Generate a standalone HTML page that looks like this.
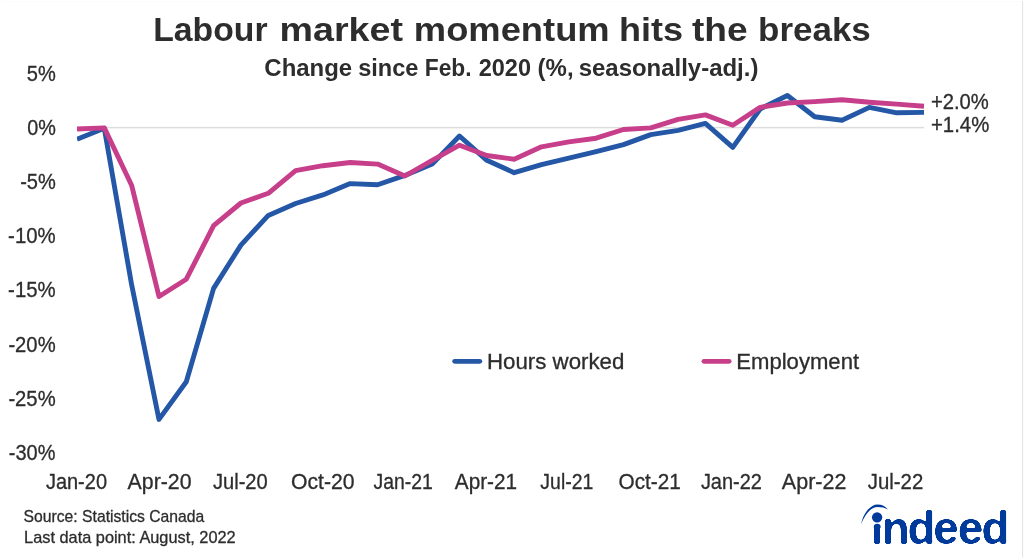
<!DOCTYPE html>
<html lang="en"><head><meta charset="utf-8"><title>Labour market momentum hits the breaks</title>
<style>
html,body{margin:0;padding:0;background:#fff;}
body{width:1024px;height:559px;overflow:hidden;}
svg{display:block;}
text{font-family:"Liberation Sans",sans-serif;fill:#2d2d2d;stroke:#2d2d2d;stroke-width:0.3px;}
.b{font-weight:bold;stroke:none;}
</style></head><body>
<svg width="1024" height="559" viewBox="0 0 1024 559">
<rect width="1024" height="559" fill="#ffffff"/>
<rect x="1022.1" y="1" width="1" height="556.4" fill="#e3e3e3"/>
<rect x="1" y="1" width="1021" height="1" fill="#fcfcfc"/>
<!-- zero gridline -->
<rect x="77" y="126.85" width="847" height="1.5" fill="#dddddd"/>
<!-- data lines -->
<defs><clipPath id="plot"><rect x="76.9" y="60" width="847.7" height="400"/></clipPath></defs>
<g clip-path="url(#plot)" fill="none" stroke-width="4.9" stroke-linejoin="round" stroke-linecap="butt">
<polyline stroke="#2557a7" points="77.0,139.2 104.3,128.3 131.6,284.6 159.0,419.4 186.3,381.8 213.6,288.4 240.9,245.1 268.3,215.4 295.6,203.5 322.9,194.9 350.2,183.6 377.6,184.8 404.9,175.4 432.2,164.1 459.5,136.0 486.8,160.3 514.2,172.7 541.5,164.6 568.8,158.2 596.1,151.7 623.5,144.6 650.8,134.6 678.1,130.3 705.4,123.4 732.8,147.4 760.1,109.0 787.4,95.5 814.7,116.7 842.0,120.3 869.4,107.4 896.7,112.8 924.0,112.4"/>
<polyline stroke="#c73e8a" points="77.0,129.0 104.3,127.9 131.6,185.2 159.0,296.5 186.3,279.2 213.6,225.7 240.9,203.0 268.3,193.3 295.6,170.6 322.9,165.7 350.2,162.5 377.6,164.1 404.9,176.0 432.2,160.3 459.5,145.2 486.8,155.5 514.2,159.2 541.5,146.8 568.8,141.9 596.1,138.2 623.5,129.5 650.8,127.9 678.1,119.3 705.4,114.9 732.8,125.2 760.1,107.4 787.4,103.0 814.7,101.6 842.0,99.8 869.4,102.2 896.7,104.1 924.0,106.3"/>
</g>
<!-- legend swatches -->
<line x1="454.7" y1="361.35" x2="479.8" y2="361.35" stroke="#2557a7" stroke-width="4.9" stroke-linecap="round"/>
<line x1="704" y1="361.35" x2="729.1" y2="361.35" stroke="#c73e8a" stroke-width="4.9" stroke-linecap="round"/>
<!-- text -->
<text y="40.7" font-size="33.3" class="b"><tspan x="153.25" textLength="114.29" lengthAdjust="spacingAndGlyphs">Labour</tspan> <tspan x="279.64" textLength="123.37" lengthAdjust="spacingAndGlyphs">market</tspan> <tspan x="413.87" textLength="195.81" lengthAdjust="spacingAndGlyphs">momentum</tspan> <tspan x="619.00" textLength="63.98" lengthAdjust="spacingAndGlyphs">hits</tspan> <tspan x="691.90" textLength="55.61" lengthAdjust="spacingAndGlyphs">the</tspan> <tspan x="758.12" textLength="112.68" lengthAdjust="spacingAndGlyphs">breaks</tspan></text>
<text y="76.1" font-size="23.5" class="b"><tspan x="264.38" textLength="87.83" lengthAdjust="spacingAndGlyphs">Change</tspan> <tspan x="358.15" textLength="60.25" lengthAdjust="spacingAndGlyphs">since</tspan> <tspan x="424.72" textLength="46.84" lengthAdjust="spacingAndGlyphs">Feb.</tspan> <tspan x="478.70" textLength="52.30" lengthAdjust="spacingAndGlyphs">2020</tspan> <tspan x="537.62" textLength="35.99" lengthAdjust="spacingAndGlyphs">(%,</tspan> <tspan x="578.71" textLength="179.70" lengthAdjust="spacingAndGlyphs">seasonally-adj.)</tspan></text>
<text x="45.89" y="488.7" font-size="21.2" textLength="61.17" lengthAdjust="spacingAndGlyphs">Jan-20</text>
<text x="127.60" y="488.7" font-size="21.2" textLength="63.88" lengthAdjust="spacingAndGlyphs">Apr-20</text>
<text x="212.96" y="488.7" font-size="21.2" textLength="54.79" lengthAdjust="spacingAndGlyphs">Jul-20</text>
<text x="290.96" y="488.7" font-size="21.2" textLength="63.52" lengthAdjust="spacingAndGlyphs">Oct-20</text>
<text x="373.53" y="488.7" font-size="21.2" textLength="59.30" lengthAdjust="spacingAndGlyphs">Jan-21</text>
<text x="454.84" y="488.7" font-size="21.2" textLength="62.29" lengthAdjust="spacingAndGlyphs">Apr-21</text>
<text x="540.36" y="488.7" font-size="21.2" textLength="52.93" lengthAdjust="spacingAndGlyphs">Jul-21</text>
<text x="618.61" y="488.7" font-size="21.2" textLength="62.24" lengthAdjust="spacingAndGlyphs">Oct-21</text>
<text x="700.89" y="488.7" font-size="21.2" textLength="61.12" lengthAdjust="spacingAndGlyphs">Jan-22</text>
<text x="781.83" y="488.7" font-size="21.2" textLength="64.55" lengthAdjust="spacingAndGlyphs">Apr-22</text>
<text x="867.73" y="488.7" font-size="21.2" textLength="55.50" lengthAdjust="spacingAndGlyphs">Jul-22</text>
<text x="486.98" y="368.8" font-size="21.2" textLength="137.42" lengthAdjust="spacingAndGlyphs">Hours worked</text>
<text x="736.23" y="368.8" font-size="21.2" textLength="122.90" lengthAdjust="spacingAndGlyphs">Employment</text>
<text x="930.88" y="109.0" font-size="21.2" textLength="57.96" lengthAdjust="spacingAndGlyphs">+2.0%</text>
<text x="930.93" y="131.8" font-size="21.2" textLength="58.33" lengthAdjust="spacingAndGlyphs">+1.4%</text>
<text x="23.58" y="522.4" font-size="16.1" textLength="180.72" lengthAdjust="spacingAndGlyphs">Source: Statistics Canada</text>
<text x="24.09" y="543.3" font-size="16.1" textLength="211.58" lengthAdjust="spacingAndGlyphs">Last data point: August, 2022</text>
<text x="26.83" y="81.1" font-size="21.2" textLength="28.98" lengthAdjust="spacingAndGlyphs">5%</text>
<text x="27.26" y="135.19" font-size="21.2" textLength="28.66" lengthAdjust="spacingAndGlyphs">0%</text>
<text x="20.20" y="189.28" font-size="21.2" textLength="35.65" lengthAdjust="spacingAndGlyphs">-5%</text>
<text x="8.10" y="243.37" font-size="21.2" textLength="47.58" lengthAdjust="spacingAndGlyphs">-10%</text>
<text x="8.10" y="297.46" font-size="21.2" textLength="47.58" lengthAdjust="spacingAndGlyphs">-15%</text>
<text x="8.38" y="351.55" font-size="21.2" textLength="47.26" lengthAdjust="spacingAndGlyphs">-20%</text>
<text x="8.38" y="405.64" font-size="21.2" textLength="47.26" lengthAdjust="spacingAndGlyphs">-25%</text>
<text x="8.86" y="459.73" font-size="21.2" textLength="46.57" lengthAdjust="spacingAndGlyphs">-30%</text>
<!-- logo -->
<filter id="soft" x="-5%" y="-10%" width="110%" height="120%" color-interpolation-filters="sRGB"><feGaussianBlur in="SourceGraphic" stdDeviation="0.9" result="b"/><feComponentTransfer in="b"><feFuncA type="linear" slope="7" intercept="-3.2"/></feComponentTransfer></filter>
<text x="870.7 881.7 907.4 933.2 957.7 981.4" y="543.9" font-size="46" class="b" style="fill:#003a9b" filter="url(#soft)">indeed</text>
<rect x="871.5" y="505" width="11.2" height="21.5" fill="#ffffff"/>
<g fill="#003a9b">
<path d="M873.85 528 V526.6 Q873.85 523.8 877.2 523.8 Q880.55 523.8 880.55 526.6 V528 Z"/>
<circle cx="877.1" cy="517.35" r="5.15"/>
<path d="M861 524.3 C863.5 512 871 504.5 877.5 504.5 C882 504.5 885.5 506.4 888 509.5 C885 507.6 881.5 506.9 877.5 506.9 C871 506.9 865 514.5 861 524.3 Z"/>
</g>
</svg>
</body></html>
